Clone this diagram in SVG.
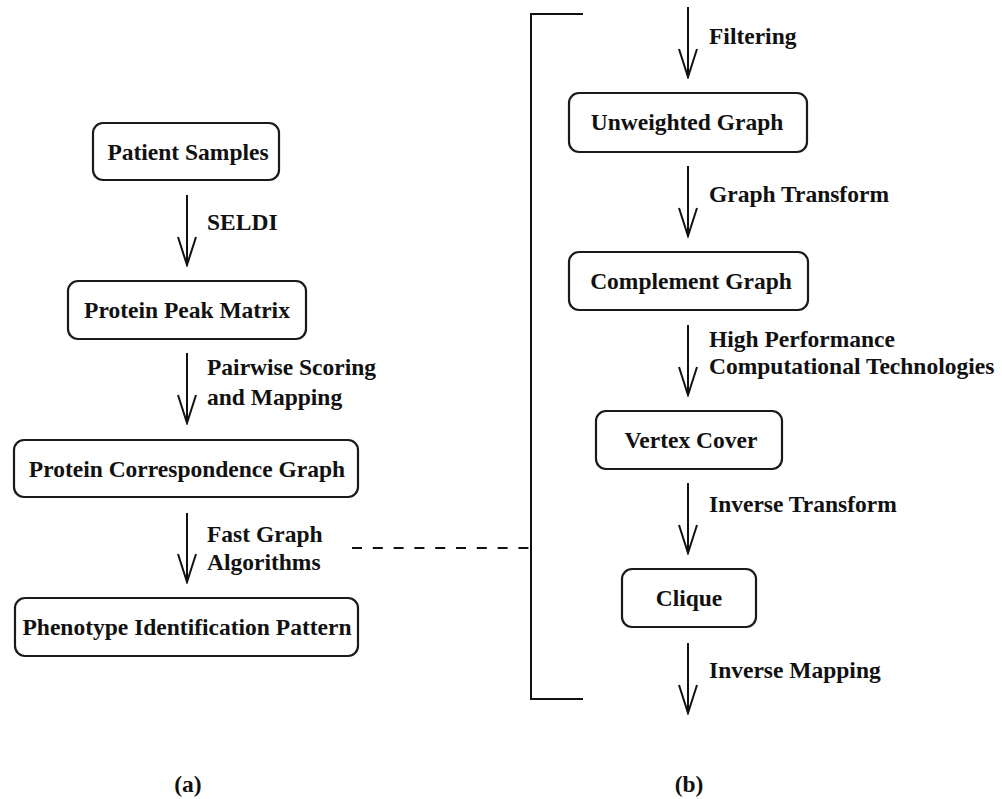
<svg xmlns="http://www.w3.org/2000/svg" width="1002" height="799" viewBox="0 0 1002 799">
<defs>
<style>
.box{fill:#fff;stroke:#1a1a1a;stroke-width:2.2}
.t{font-family:"Liberation Serif","Times New Roman",serif;font-weight:bold;font-size:23.5px;fill:#111}
.c{text-anchor:middle}
.ln{fill:none;stroke:#111;stroke-width:2}
</style>
<marker id="ah" viewBox="-30 -10 32 20" markerWidth="32" markerHeight="20" refX="0" refY="0" orient="auto" markerUnits="userSpaceOnUse">
<polyline points="-28,-9 0,0 -28,9" fill="none" stroke="#111" stroke-width="2"/>
</marker>
</defs>
<rect width="1002" height="799" fill="#fff"/>

<g id="connectors">
<line class="ln" x1="187" y1="195" x2="187" y2="265" marker-end="url(#ah)"/>
<line class="ln" x1="187" y1="353" x2="187" y2="423" marker-end="url(#ah)"/>
<line class="ln" x1="187" y1="513" x2="187" y2="582" marker-end="url(#ah)"/>
<line class="ln" x1="688" y1="7" x2="688" y2="77" marker-end="url(#ah)"/>
<line class="ln" x1="688" y1="166" x2="688" y2="236" marker-end="url(#ah)"/>
<line class="ln" x1="688" y1="325" x2="688" y2="395" marker-end="url(#ah)"/>
<line class="ln" x1="688" y1="483" x2="688" y2="553" marker-end="url(#ah)"/>
<line class="ln" x1="688" y1="643" x2="688" y2="713" marker-end="url(#ah)"/>
<polyline class="ln" points="583,14 531,14 531,699 583,699"/>
<line class="ln" x1="352" y1="548" x2="531" y2="548" stroke-dasharray="10 10.8"/>
<text class="t" x="207" y="230">SELDI</text>
<text class="t" x="207" y="375">Pairwise Scoring</text>
<text class="t" x="207" y="405">and Mapping</text>
<text class="t" x="207" y="542">Fast Graph</text>
<text class="t" x="207" y="570">Algorithms</text>
<text class="t" x="709" y="44">Filtering</text>
<text class="t" x="709" y="202">Graph Transform</text>
<text class="t" x="709" y="347">High Performance</text>
<text class="t" x="709" y="374">Computational Technologies</text>
<text class="t" x="709" y="512">Inverse Transform</text>
<text class="t" x="709" y="678">Inverse Mapping</text>
</g>

<g id="patient-samples">
<rect class="box" x="93" y="123" width="186" height="57" rx="10"/>
<text class="t c" x="188" y="160">Patient Samples</text>
</g>
<g id="protein-peak-matrix">
<rect class="box" x="68" y="281" width="238" height="58" rx="10"/>
<text class="t c" x="187" y="318">Protein Peak Matrix</text>
</g>
<g id="protein-correspondence-graph">
<rect class="box" x="14" y="440" width="344" height="57" rx="10"/>
<text class="t c" x="187" y="477">Protein Correspondence Graph</text>
</g>
<g id="phenotype-identification-pattern">
<rect class="box" x="15" y="598" width="343" height="58" rx="10"/>
<text class="t c" x="187" y="635">Phenotype Identification Pattern</text>
</g>
<g id="unweighted-graph">
<rect class="box" x="569" y="93" width="238" height="59" rx="10"/>
<text class="t c" x="687" y="130">Unweighted Graph</text>
</g>
<g id="complement-graph">
<rect class="box" x="569" y="252" width="239" height="58" rx="10"/>
<text class="t c" x="691" y="289">Complement Graph</text>
</g>
<g id="vertex-cover">
<rect class="box" x="596" y="411" width="186" height="58" rx="10"/>
<text class="t c" x="691" y="448">Vertex Cover</text>
</g>
<g id="clique">
<rect class="box" x="622" y="569" width="134" height="58" rx="10"/>
<text class="t c" x="689" y="606">Clique</text>
</g>
<g id="labels">
<text class="t c" x="188" y="792">(a)</text>
<text class="t c" x="689" y="792">(b)</text>
</g>
</svg>
